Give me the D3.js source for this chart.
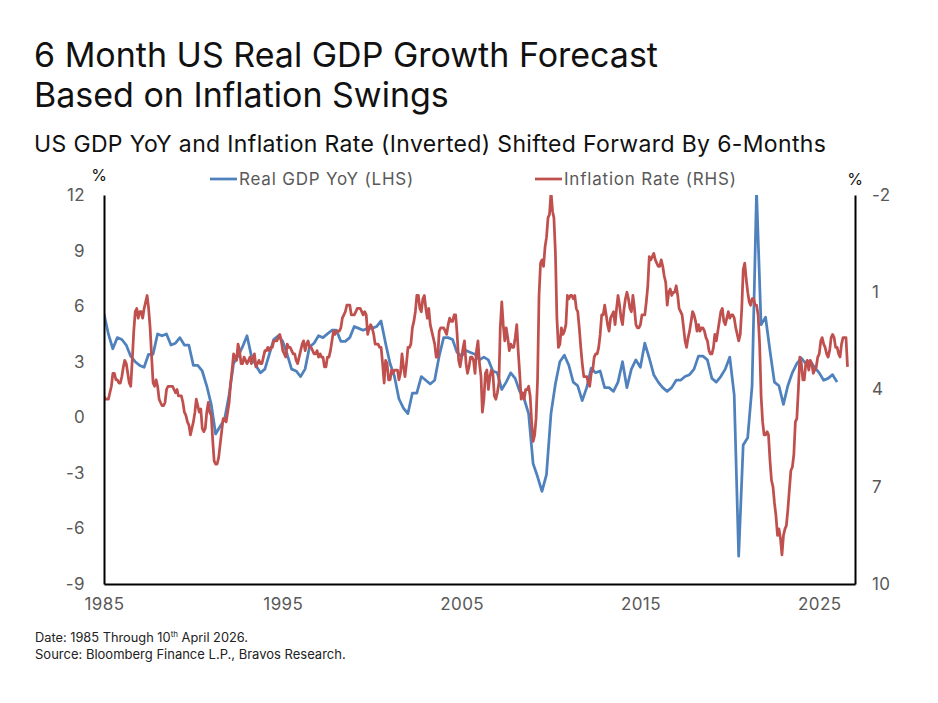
<!DOCTYPE html>
<html>
<head>
<meta charset="utf-8">
<script src="https://cdn.jsdelivr.net/npm/d3@7"></script>
<style>
  body { margin: 0; background: #fff; }
  svg { font-family: Inter, "Noto Sans", sans-serif; }
</style>
</head>
<body>
<svg id="chart" width="938" height="703"></svg>
<script>
// Real GDP YoY %, quarterly, first point is 1984 Q4 (dated at quarter end)
const gdpStart = [1984, 4];
const gdpYoY = [
  5.6,
  4.5, 3.7, 4.3, 4.2,   // 1985
  3.9, 3.3, 3.0, 2.8,   // 1986
  2.7, 3.4, 3.4, 4.5,   // 1987
  4.4, 4.5, 3.9, 4.0,   // 1988
  4.3, 3.9, 3.9, 2.8,   // 1989
  2.8, 2.5, 1.7, 0.7,   // 1990
  -0.9, -0.5, -0.1, 1.2, // 1991
  2.9, 3.3, 3.8, 4.4,   // 1992
  3.3, 2.8, 2.4, 2.6,   // 1993
  3.4, 4.2, 4.4, 4.1,   // 1994
  3.4, 2.6, 2.5, 2.2,   // 1995
  2.6, 3.8, 4.0, 4.4,   // 1996
  4.3, 4.5, 4.7, 4.7,   // 1997
  4.1, 4.1, 4.3, 4.9,   // 1998
  4.8, 4.7, 4.8, 4.8,   // 1999
  4.9, 5.2, 4.0, 2.9,   // 2000
  2.2, 1.0, 0.5, 0.2,   // 2001
  1.3, 1.3, 2.2, 2.0,   // 2002
  1.8, 2.0, 3.3, 4.3,   // 2003
  4.3, 4.2, 3.5, 3.3,   // 2004
  3.6, 3.5, 3.4, 3.1,   // 2005
  3.25, 3.1, 2.5, 2.4,  // 2006
  1.5, 1.9, 2.4, 2.1,   // 2007
  1.4, 1.0, 0.2, -2.5,  // 2008
  -3.2, -4.0, -3.1, 0.2, // 2009
  1.8, 3.0, 3.35, 2.8,  // 2010
  1.9, 1.7, 0.9, 1.6,   // 2011
  2.65, 2.4, 2.5, 1.6,  // 2012
  1.6, 1.4, 1.9, 3.0,   // 2013
  1.6, 2.6, 3.1, 2.7,   // 2014
  4.0, 3.2, 2.3, 1.9,   // 2015
  1.6, 1.4, 1.6, 2.0,   // 2016
  2.0, 2.2, 2.3, 2.6,   // 2017
  3.3, 3.3, 3.1, 2.1,   // 2018
  1.9, 2.2, 2.6, 3.25,  // 2019
  1.2, -7.5, -1.5, -1.1, // 2020
  1.7, 12.2, 5.0, 5.4,  // 2021
  3.6, 1.9, 1.7, 0.7,   // 2022
  1.7, 2.4, 2.9, 3.2,   // 2023
  2.9, 3.0, 2.7, 2.4,   // 2024
  2.0, 2.1, 2.3, 1.9    // 2025
];

// CPI YoY %, monthly, first point is July 1984; drawn shifted forward by 6 months
const cpiStart = [1984, 7];
const shiftMonths = 6;
const cpiYoY = [
  4.2, 4.3, 4.3, 4.3, 4.1, 3.9,                               // 1984 H2
  3.5, 3.5, 3.7, 3.7, 3.8, 3.8, 3.6, 3.3, 3.1, 3.2, 3.5, 3.8, // 1985
  3.9, 3.1, 2.2, 1.6, 1.5, 1.8, 1.6, 1.6, 1.8, 1.5, 1.3, 1.1, // 1986
  1.5, 2.1, 3.0, 3.8, 3.9, 3.7, 3.9, 4.3, 4.4, 4.5, 4.5, 4.4, // 1987
  4.0, 3.9, 3.9, 3.9, 3.9, 4.0, 4.1, 4.0, 4.2, 4.2, 4.2, 4.4, // 1988
  4.7, 4.8, 5.0, 5.1, 5.4, 5.2, 5.0, 4.7, 4.3, 4.5, 4.7, 4.6, // 1989
  5.2, 5.3, 5.2, 4.7, 4.4, 4.7, 4.8, 5.6, 6.2, 6.3, 6.3, 6.1, // 1990
  5.7, 5.3, 4.9, 4.9, 5.0, 4.7, 4.4, 3.8, 3.4, 2.9, 3.0, 3.1, // 1991
  2.6, 2.8, 3.2, 3.2, 3.0, 3.1, 3.2, 3.1, 3.0, 3.2, 3.0, 2.9, // 1992
  3.3, 3.2, 3.1, 3.2, 3.2, 3.0, 2.8, 2.8, 2.7, 2.8, 2.7, 2.7, // 1993
  2.5, 2.5, 2.5, 2.4, 2.3, 2.5, 2.8, 2.9, 3.0, 2.6, 2.7, 2.7, // 1994
  2.8, 2.9, 2.9, 3.1, 3.2, 3.0, 2.8, 2.6, 2.5, 2.8, 2.6, 2.5, // 1995
  2.7, 2.7, 2.8, 2.9, 2.9, 2.8, 3.0, 2.9, 3.0, 3.0, 3.3, 3.3, // 1996
  3.0, 3.0, 2.8, 2.5, 2.2, 2.3, 2.2, 2.2, 2.2, 2.1, 1.8, 1.7, // 1997
  1.6, 1.4, 1.4, 1.4, 1.7, 1.7, 1.7, 1.6, 1.5, 1.5, 1.5, 1.6, // 1998
  1.7, 1.6, 1.7, 2.3, 2.1, 2.0, 2.1, 2.3, 2.6, 2.6, 2.6, 2.7, // 1999
  2.7, 3.2, 3.8, 3.1, 3.2, 3.7, 3.7, 3.4, 3.5, 3.4, 3.4, 3.4, // 2000
  3.7, 3.5, 2.9, 3.3, 3.6, 3.2, 2.7, 2.7, 2.6, 2.1, 1.9, 1.6, // 2001
  1.1, 1.1, 1.5, 1.6, 1.2, 1.1, 1.5, 1.8, 1.5, 2.0, 2.2, 2.4, // 2002
  2.6, 3.0, 3.0, 2.2, 2.1, 2.1, 2.1, 2.2, 2.3, 2.0, 1.8, 1.9, // 2003
  1.9, 1.7, 1.7, 2.3, 3.1, 3.3, 3.0, 2.7, 2.5, 3.2, 3.5, 3.3, // 2004
  3.0, 3.0, 3.1, 3.5, 2.8, 2.5, 3.2, 3.6, 4.7, 4.3, 3.5, 3.4, // 2005
  4.0, 3.6, 3.4, 3.5, 4.2, 4.3, 4.1, 3.8, 2.1, 1.3, 2.0, 2.5, // 2006
  2.1, 2.4, 2.8, 2.6, 2.7, 2.7, 2.4, 2.0, 2.8, 3.5, 4.3, 4.1, // 2007
  4.3, 4.0, 4.0, 3.9, 4.2, 5.0, 5.6, 5.4, 4.9, 3.7, 1.1, 0.1, // 2008
  0.0, 0.2, -0.4, -0.7, -1.3, -1.4, -2.1, -1.5, -1.3, -0.2, 1.8, 2.7, // 2009
  2.6, 2.1, 2.3, 2.2, 2.0, 1.1, 1.2, 1.1, 1.1, 1.2, 1.1, 1.5, // 2010
  1.6, 2.1, 2.7, 3.2, 3.6, 3.6, 3.6, 3.8, 3.9, 3.5, 3.4, 3.0, // 2011
  2.9, 2.9, 2.7, 2.3, 1.7, 1.7, 1.4, 1.7, 2.0, 2.2, 1.8, 1.7, // 2012
  1.6, 2.0, 1.5, 1.1, 1.4, 1.8, 2.0, 1.5, 1.2, 1.0, 1.2, 1.5, // 2013
  1.6, 1.1, 1.5, 2.0, 2.1, 2.1, 2.0, 1.7, 1.7, 1.7, 1.3, 0.8, // 2014
  -0.1, 0.0, -0.1, -0.2, 0.0, 0.1, 0.2, 0.2, 0.0, 0.2, 0.5, 0.7, // 2015
  1.4, 1.0, 0.9, 1.1, 1.0, 1.0, 0.8, 1.1, 1.5, 1.6, 1.7, 2.1, // 2016
  2.5, 2.7, 2.4, 2.2, 1.9, 1.6, 1.7, 1.9, 2.2, 2.0, 2.2, 2.1, // 2017
  2.1, 2.2, 2.4, 2.5, 2.8, 2.9, 2.9, 2.7, 2.3, 2.5, 2.2, 1.9, // 2018
  1.6, 1.5, 1.9, 2.0, 1.8, 1.6, 1.8, 1.7, 1.7, 1.8, 2.1, 2.3, // 2019
  2.5, 2.3, 1.5, 0.3, 0.1, 0.6, 1.0, 1.3, 1.4, 1.2, 1.2, 1.4, // 2020
  1.4, 1.7, 2.6, 4.2, 5.0, 5.4, 5.4, 5.3, 5.4, 6.2, 6.8, 7.0, // 2021
  7.5, 7.9, 8.5, 8.3, 8.6, 9.1, 8.5, 8.3, 8.2, 7.7, 7.1, 6.5, // 2022
  6.4, 6.0, 5.0, 4.9, 4.0, 3.0, 3.2, 3.7, 3.7, 3.2, 3.1, 3.4, // 2023
  3.1, 3.2, 3.5, 3.4, 3.3, 3.0, 2.9, 2.5, 2.4, 2.6, 2.7, 2.9, // 2024
  3.0, 2.8, 2.4, 2.3, 2.4, 2.7, 2.7, 2.9, 3.0, 2.6, 2.4, 2.4, // 2025
  2.4, 3.3                                                    // 2026
];

const xTickYears = [1985, 1995, 2005, 2015, 2025];
const leftTicks = [12, 9, 6, 3, 0, -3, -6, -9];
const rightTicks = [-2, 1, 4, 7, 10];
const seriesNames = ["Real GDP YoY (LHS)", "Inflation Rate (RHS)"];
const seriesColors = ["#4f81bd", "#c0504d"];

const margin = { top: 195, left: 104, right: 83, bottom: 119 };
const width = 938, height = 703;

const svg = d3.select("#chart");

// titles
svg.append("text").attr("x", 34).attr("y", 67)
   .style("font-size", "34px").style("fill", "#111")
   .text("6 Month US Real GDP Growth Forecast");
svg.append("text").attr("x", 34).attr("y", 107)
   .style("font-size", "34px").style("fill", "#111")
   .text("Based on Inflation Swings");
svg.append("text").attr("x", 34).attr("y", 152)
   .style("font-size", "23px").style("letter-spacing", "0.35px").style("fill", "#111")
   .text("US GDP YoY and Inflation Rate (Inverted) Shifted Forward By 6-Months");

// scales
const x = d3.scaleTime()
    .domain([new Date(1985, 0, 1), new Date(2027, 0, 1)])
    .range([margin.left, width - margin.right]);
const yL = d3.scaleLinear().domain([-9, 12]).range([height - margin.bottom, margin.top]);
const yR = d3.scaleLinear().domain([10, -2]).range([height - margin.bottom, margin.top]);

const gdpData = gdpYoY.map((v, i) => ({
    date: new Date(gdpStart[0], (gdpStart[1] - 1) * 3 + 3 + i * 3, 0),
    value: v
}));
const cpiData = cpiYoY.map((v, i) => ({
    date: new Date(cpiStart[0], cpiStart[1] - 1 + i + shiftMonths, 1),
    value: v
}));

svg.append("clipPath").attr("id", "plotClip")
   .append("rect")
   .attr("x", margin.left).attr("y", margin.top)
   .attr("width", width - margin.left - margin.right)
   .attr("height", height - margin.top - margin.bottom);

const plot = svg.append("g").attr("clip-path", "url(#plotClip)");

const gdpLine = d3.line().x(d => x(d.date)).y(d => yL(d.value));
const cpiLine = d3.line().x(d => x(d.date)).y(d => yR(d.value));

plot.append("path").datum(gdpData)
    .attr("d", gdpLine)
    .attr("fill", "none")
    .attr("stroke", seriesColors[0])
    .attr("stroke-width", 2.75)
    .attr("stroke-linejoin", "round");

plot.append("path").datum(cpiData)
    .attr("d", cpiLine)
    .attr("fill", "none")
    .attr("stroke", seriesColors[1])
    .attr("stroke-width", 2.75)
    .attr("stroke-linejoin", "round");

// axes
function styleAxis(g) {
    g.select(".domain").attr("stroke", "#000").attr("stroke-width", 2);
    g.selectAll(".tick line").remove();
    g.selectAll(".tick text")
     .style("font-family", "Inter, 'Noto Sans', sans-serif")
     .style("font-size", "17px")
     .style("letter-spacing", "0.4px")
     .style("fill", "#595959");
}

// plain hyphen for negatives, like the original
const numFmt = d => String(d);

svg.append("g")
   .attr("transform", `translate(0,${height - margin.bottom})`)
   .call(d3.axisBottom(x)
        .tickValues(xTickYears.map(y => new Date(y, 0, 1)))
        .tickFormat(d3.timeFormat("%Y"))
        .tickSize(0).tickSizeOuter(0).tickPadding(14))
   .call(styleAxis);

svg.append("g")
   .attr("transform", `translate(${margin.left},0)`)
   .call(d3.axisLeft(yL).tickValues(leftTicks).tickFormat(numFmt)
        .tickSize(0).tickSizeOuter(0).tickPadding(19))
   .call(styleAxis);

svg.append("g")
   .attr("transform", `translate(${width - margin.right},0)`)
   .call(d3.axisRight(yR).tickValues(rightTicks).tickFormat(numFmt)
        .tickSize(0).tickSizeOuter(0).tickPadding(17))
   .call(styleAxis);

// unit labels
svg.append("text").attr("x", 99).attr("y", 181).attr("text-anchor", "middle")
   .style("font-size", "16px").style("fill", "#111").text("%");
svg.append("text").attr("x", 855).attr("y", 185).attr("text-anchor", "middle")
   .style("font-size", "16px").style("fill", "#111").text("%");

// legend
const legendX = [210, 535];
const legend = svg.append("g").selectAll("g")
    .data(seriesNames)
    .enter().append("g")
    .attr("transform", (d, i) => `translate(${legendX[i]},179)`);
legend.append("line")
    .attr("x1", 0).attr("x2", 27).attr("y1", 0).attr("y2", 0)
    .attr("stroke", (d, i) => seriesColors[i])
    .attr("stroke-width", 2.75);
legend.append("text")
    .attr("x", 29).attr("y", 6)
    .style("font-size", "17px").style("letter-spacing", "0.8px").style("fill", "#595959")
    .text(d => d);

// footnote
const note = svg.append("text").attr("x", 35).attr("y", 642)
   .style("font-size", "12.8px").style("fill", "#222");
note.append("tspan").text("Date: 1985 Through 10");
note.append("tspan").attr("baseline-shift", "super").style("font-size", "8px").text("th");
note.append("tspan").text(" April 2026.");
svg.append("text").attr("x", 35).attr("y", 659)
   .style("font-size", "13px").style("fill", "#222")
   .text("Source: Bloomberg Finance L.P., Bravos Research.");
</script>
</body>
</html>
